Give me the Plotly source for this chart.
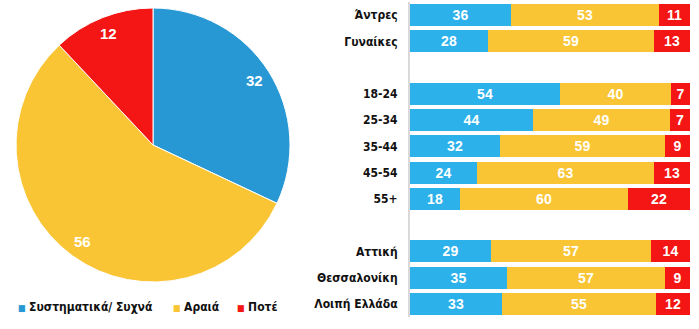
import math
import plotly.graph_objects as go

# Pie data
pie_labels = ["Συστηματικά/ Συχνά", "Αραιά", "Ποτέ"]
pie_values = [32, 56, 12]
pie_colors = ["#2898D5", "#F9C535", "#F41515"]

# Bar data
bar_rows = ["Άντρες", "Γυναίκες", "", "18-24", "25-34", "35-44", "45-54", "55+", "", "Αττική", "Θεσσαλονίκη", "Λοιπή Ελλάδα"]
often = [36, 28, None, 54, 44, 32, 24, 18, None, 29, 35, 33]
rarely = [53, 59, None, 40, 49, 59, 63, 60, None, 57, 57, 55]
never = [11, 13, None, 7, 7, 9, 13, 22, None, 14, 9, 12]
bar_colors = ["#2DB1EB", "#F9C535", "#F41515"]

W, H = 699, 329
LABEL_FONT = "DejaVu Sans Condensed, Liberation Sans Narrow, Liberation Sans"
fig = go.Figure()

# pie geometry (pixels)
PX0, PX1, PY0, PY1 = 16, 290, 8, 282
cx, cy, R = (PX0 + PX1) / 2, (PY0 + PY1) / 2, (PX1 - PX0) / 2

fig.add_trace(go.Pie(
    labels=pie_labels, values=pie_values, sort=False, direction="clockwise",
    rotation=0, marker=dict(colors=pie_colors, line=dict(color="white", width=1)),
    textinfo="none", showlegend=False,
    domain=dict(x=[PX0 / W, PX1 / W], y=[1 - PY1 / H, 1 - PY0 / H]),
    hoverinfo="skip",
))

# value labels placed near the rim of each slice, derived from the data
total = sum(pie_values)
cum = 0
for v in pie_values:
    mid = (cum + v / 2) / total * 2 * math.pi
    cum += v
    px = cx + 0.875 * R * math.sin(mid)
    py = cy - 0.875 * R * math.cos(mid)
    fig.add_annotation(x=px / W, y=1 - py / H, xref="paper", yref="paper", text=f"<b>{v}</b>",
                       xanchor="center", yanchor="middle",
                       showarrow=False, font=dict(color="white", size=15, family="Liberation Sans"))

ypos = list(range(len(bar_rows)))
for name, vals, col in zip(pie_labels, [often, rarely, never], bar_colors):
    fig.add_trace(go.Bar(
        x=vals, y=ypos, orientation="h", name=name, showlegend=False,
        marker=dict(color=col, line=dict(width=0)), width=0.84,
        text=[("" if v is None else str(v)) for v in vals], texttemplate="%{text}",
        textposition="inside", insidetextanchor="middle",
        textfont=dict(color="white", size=14, family="Liberation Sans", weight="bold"),
        xaxis="x", yaxis="y",
    ))

# legend drawn as text annotations
leg_x = [16, 171, 235]
for lab, col, lx in zip(pie_labels, pie_colors, leg_x):
    fig.add_annotation(x=lx / W, y=1 - 307 / H, xref="paper", yref="paper", xanchor="left", yanchor="middle",
                       text=f"<span style='color:{col};font-size:9px'>■</span> <b>{lab}</b>",
                       showarrow=False, font=dict(family=LABEL_FONT, size=12, color="#111111"))

fig.update_layout(
    width=W, height=H, margin=dict(l=0, r=0, t=0, b=0),
    paper_bgcolor="white", plot_bgcolor="white",
    barmode="stack", barnorm="percent", bargap=0, showlegend=False,
    uniformtext=dict(minsize=10, mode="show"),
    xaxis=dict(domain=[410 / W, 690 / W], range=[0, 100], visible=False, fixedrange=True),
    yaxis=dict(domain=[1 - 317 / H, 1 - 2 / H], range=[11.5, -0.5], tickmode="array",
               tickvals=ypos, ticktext=bar_rows, showgrid=False, zeroline=False,
               showline=True, linecolor="#D9D9D9", linewidth=2, ticks="", ticklen=0,
               ticklabelstandoff=8,
               tickfont=dict(family=LABEL_FONT, size=12, color="#111111", weight="bold"),
               anchor="x", automargin=False),
)

fig.write_html("out.html")
